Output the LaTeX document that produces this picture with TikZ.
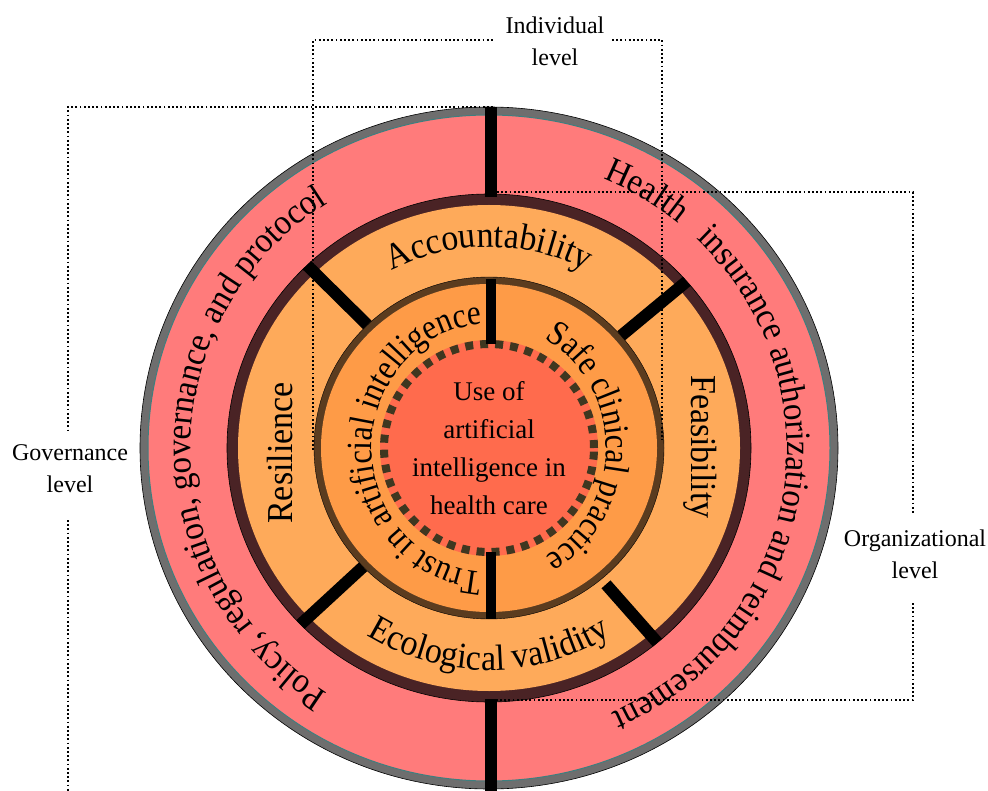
\documentclass[tikz,border=0pt]{standalone}
\usepackage{fontspec}
\setmainfont{Liberation Serif}
\newfontfamily\condfam[FakeStretch=0.93]{Liberation Serif}
\newfontfamily\narrowfam[FakeStretch=0.88]{Liberation Serif}
\usetikzlibrary{decorations.text}
\definecolor{ringgray}{HTML}{6E6E6E}
\definecolor{ringteal}{HTML}{3D7F7F}
\definecolor{ringpink}{HTML}{FF7B7B}
\definecolor{ringdark}{HTML}{4A2325}
\definecolor{ringorange}{HTML}{FEAA5A}
\definecolor{ringbrown}{HTML}{5B3C1F}
\definecolor{innerorange}{HTML}{FE9B47}
\definecolor{corered}{HTML}{FF6B4D}
\definecolor{coredash}{HTML}{3F3720}
\newcommand\ringtxt{\condfam\fontsize{36.5}{38}\selectfont}
\newcommand\outertxt{\condfam\fontsize{35.5}{38}\selectfont}
\newcommand\innertxt{\narrowfam\fontsize{35.5}{38}\selectfont}
\tikzset{
  bracket/.style={line width=1.8pt, dash pattern=on 1.8pt off 2.4pt, black},
  spoke/.style={line width=12pt, black, line cap=butt},
  thinspoke/.style={line width=10pt, black, line cap=butt},
  lvl/.style={font=\fontsize{24}{32}\selectfont, align=center, inner sep=0pt},
  corelbl/.style={font=\fontsize{27}{38}\selectfont, align=center, inner sep=0pt},
  straightlbl/.style={font=\ringtxt, inner sep=0pt},
}
\begin{document}
\begin{tikzpicture}[x=1pt,y=1pt]
\useasboundingbox (0,-791) rectangle (988,0);
\clip (0,-791) rectangle (988,0);
\fill[white] (0,-791) rectangle (988,0);
\begin{scope}[shift={(489,-448)}]
  % rings
  \filldraw[fill=ringgray, draw=black, line width=0.6pt] (0,0) ellipse [x radius=349, y radius=341];
  \filldraw[fill=ringpink, draw=ringteal, line width=1pt] (0,0) ellipse [x radius=341, y radius=333];
  \filldraw[fill=ringdark, draw=black, line width=0.6pt] (0,0) ellipse [x radius=262, y radius=254];
  \fill[ringorange] (0,0) ellipse [x radius=251, y radius=243];
  \filldraw[fill=ringbrown, draw=black, line width=0.4pt] (0,0) ellipse [x radius=175, y radius=171];
  \fill[innerorange] (0,0) ellipse [x radius=168, y radius=164];
  \fill[corered] (0,0) ellipse [x radius=109, y radius=108];
  \draw[coredash, line width=8pt, dash pattern=on 8pt off 7pt] (0,0) ellipse [x radius=105, y radius=104];
  % spokes
  \coordinate (sTa) at (2,341); \coordinate (sTb) at (2,251);
  \coordinate (sBa) at (2,-251); \coordinate (sBb) at (2,-350);
  \draw[spoke] (sTa) -- (sTb);
  \draw[spoke] (sBa) -- (sBb);
  \coordinate (iTa) at (2,169); \coordinate (iTb) at (2,104);
  \coordinate (iBa) at (2,-104); \coordinate (iBb) at (2,-171);
  \draw[thinspoke] (iTa) -- (iTb);
  \draw[thinspoke] (iBa) -- (iBb);
  \coordinate (dTLa) at (134:175 and 171); \coordinate (dTLb) at (134:262 and 254);
  \coordinate (dTRa) at (41:175 and 171);  \coordinate (dTRb) at (41:262 and 254);
  \coordinate (dBLa) at (224:175 and 171); \coordinate (dBLb) at (224:262 and 254);
  \coordinate (dBRa) at (310:182 and 178); \coordinate (dBRb) at (310:262 and 254);
  \draw[spoke] (dTLa) -- (dTLb);
  \draw[spoke] (dTRa) -- (dTRb);
  \draw[spoke] (dBLa) -- (dBLb);
  \draw[spoke] (dBRa) -- (dBRb);
\end{scope}
% brackets
\draw[bracket] (313,-450) -- (313,-40) -- (493,-40);
\draw[bracket] (612,-40) -- (662,-40) -- (662,-440);
\draw[bracket] (493,-107) -- (68,-107) -- (68,-430);
\draw[bracket] (68,-520) -- (68,-795);
\draw[bracket] (497,-192) -- (913,-192) -- (913,-513);
\draw[bracket] (913,-603) -- (913,-700) -- (497,-700);
% level labels
\node[lvl] (ind) at (555,-41) {Individual\\level};
\node[lvl] (gov) at (70,-469) {Governance\\level};
\node[lvl] (org) at (915,-554) {Organizational\\level};
\begin{scope}[shift={(489,-448)}]
  \node[corelbl] (core) at (0,0) {Use of\\artificial\\intelligence in\\health care};
  \node[straightlbl, rotate=90] (res) at (-209,-5) {Resilience};
  \node[straightlbl, rotate=-90] (fea) at (211,1) {Feasibility};
  % curved texts
  \path[decorate, decoration={text along path, text align=center,
      text={|\ringtxt|Accountability}}]
    (130:206 and 201) arc[start angle=130, end angle=50, x radius=206, y radius=201];
  \path[decorate, decoration={text along path, text align=center,
      text={|\ringtxt|Ecological validity}}]
    (200:228 and 222) arc[start angle=200, end angle=340, x radius=228, y radius=222];
  \path[decorate, decoration={text along path, text align=center,
      text={|\outertxt|Policy, regulation, governance, and protocol}}]
    (262:298 and 291) arc[start angle=262, end angle=98, x radius=298, y radius=291];
  \path[decorate, decoration={text along path, text align=left,
      text={|\outertxt|Health}}]
    (67.5:298 and 291) arc[start angle=67.5, end angle=20, x radius=298, y radius=291];
  \path[decorate, decoration={text along path, text align=left,
      text={|\outertxt|insurance authorization and reimbursement}}]
    (46:298 and 291) arc[start angle=46, end angle=-95, x radius=298, y radius=291];
  \path[decorate, decoration={text along path, text align=center,
      text={|\innertxt|Trust in artificial intelligence}}]
    (272:117 and 124) arc[start angle=272, end angle=88, x radius=117, y radius=124];
  \path[decorate, decoration={text along path, text align=center,
      text={|\innertxt|Safe clinical practice}}]
    (75:117 and 124) arc[start angle=75, end angle=-75, x radius=117, y radius=124];
\end{scope}
\end{tikzpicture}
\end{document}
